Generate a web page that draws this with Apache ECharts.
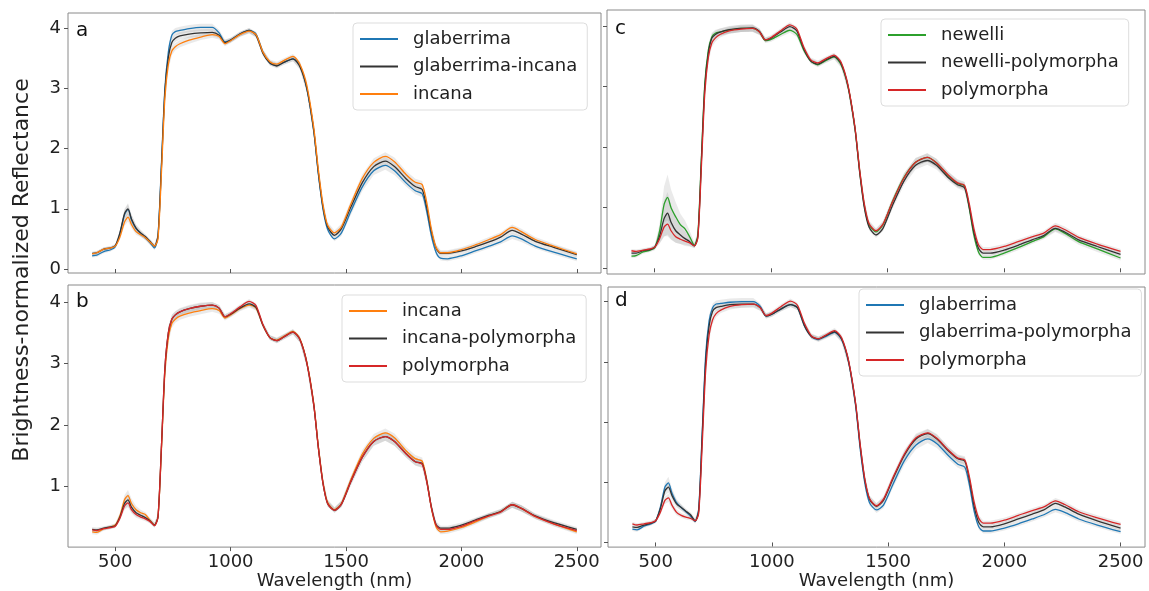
<!DOCTYPE html>
<html><head><meta charset="utf-8">
<script src="https://cdn.jsdelivr.net/npm/echarts@6/dist/echarts.min.js"></script>
<style>html,body{margin:0;padding:0;background:#fff}#c{width:1149px;height:591px}</style>
</head><body><div id="c"></div>
<script>
// Wavelength grid (nm)
const WL = [400,420,450,480,500, 520,540,555,570,590, 610,630,650,670,685, 700,715,730,745,760,
  780,820,870,920,950, 975,1000,1040,1080,1110, 1140,1170,1200,1230,1270, 1300,1330,1360,1380,1400,
  1420,1450,1480,1520,1570, 1620,1670,1710,1760,1800, 1830,1850,1870,1890,1910, 1940,2000,2060,2120,2170,
  2220,2260,2320,2400,2500];
const X_TICKS = [500,1000,1500,2000,2500];
const Y_TICKS = [0,1,2,3,4];
const Y_TICKS_B = [1,2,3,4];
const X_TITLE = 'Wavelength (nm)';
const Y_TITLE = 'Brightness-normalized Reflectance';

// Panel a
const glabA = [.22,.23,.29,.32,.37, .58,.90,.99,.82,.67, .59,.52,.44,.35,.55, 1.75,3.0,3.6,3.88,3.94,
  3.96,3.99,4.01,4.01,3.92, 3.77,3.8,3.9,3.96,3.9, 3.6,3.42,3.38,3.43,3.49, 3.38,3.0,2.3,1.58,1.0,
  .66,.5,.6,.95,1.36, 1.63,1.72,1.63,1.43,1.3, 1.25,.95,.55,.28,.18, .17,.22,.3,.38,.45, .55,.5,.38,.28,.17];
const glabIncA = [.26,.27,.33,.35,.39, .60,.92,1.0,.83,.68, .60,.54,.46,.38,.55, 1.7,2.95,3.52,3.76,3.83,
  3.87,3.9,3.92,3.93,3.88, 3.76,3.8,3.9,3.96,3.88, 3.58,3.42,3.37,3.43,3.49, 3.36,3.0,2.3,1.6,1.03,
  .7,.56,.67,1.02,1.43, 1.7,1.79,1.7,1.5,1.37, 1.32,1.02,.62,.35,.26, .26,.3,.37,.45,.53, .64,.58,.46,.36,.24];
const incA = [.25,.27,.33,.35,.38, .53,.78,.86,.74,.62, .57,.52,.45,.38,.5, 1.6,2.85,3.4,3.62,3.69,
  3.74,3.8,3.85,3.89,3.86, 3.74,3.79,3.89,3.95,3.89, 3.6,3.44,3.4,3.46,3.53, 3.4,3.05,2.35,1.65,1.07,
  .73,.6,.7,1.07,1.5, 1.77,1.87,1.78,1.57,1.44, 1.4,1.1,.66,.36,.27, .27,.32,.4,.49,.57, .69,.62,.49,.38,.25];
// Panel b
const incB = [.26,.25,.31,.34,.37, .52,.78,.85,.72,.62, .57,.54,.45,.37,.5, 1.6,2.85,3.42,3.65,3.72,
  3.77,3.82,3.86,3.89,3.86, 3.74,3.79,3.89,3.95,3.9, 3.62,3.42,3.38,3.44,3.52, 3.4,3.02,2.35,1.65,1.07,
  .74,.62,.72,1.1,1.52, 1.78,1.87,1.79,1.58,1.45, 1.41,1.1,.65,.34,.26, .27,.33,.42,.52,.59, .7,.64,.51,.39,.26];
const incPolB = [.3,.29,.32,.34,.36, .5,.72,.78,.66,.57, .53,.49,.44,.37,.5, 1.65,2.92,3.5,3.72,3.79,
  3.84,3.89,3.93,3.95,3.9, 3.76,3.8,3.9,3.97,3.91, 3.62,3.42,3.37,3.43,3.51, 3.39,3.01,2.33,1.63,1.05,
  .72,.61,.71,1.07,1.47, 1.73,1.81,1.73,1.53,1.4, 1.37,1.08,.66,.38,.32, .32,.37,.45,.53,.59, .7,.64,.52,.41,.3];
const polB = [.29,.28,.31,.33,.35, .48,.68,.73,.62,.54, .5,.47,.43,.36,.5, 1.65,2.92,3.5,3.72,3.79,
  3.84,3.89,3.93,3.95,3.9, 3.76,3.81,3.92,4.01,3.94, 3.63,3.42,3.37,3.43,3.51, 3.39,3.01,2.33,1.63,1.05,
  .72,.61,.71,1.07,1.47, 1.73,1.81,1.73,1.53,1.4, 1.36,1.07,.65,.37,.3, .3,.35,.44,.52,.58, .7,.64,.51,.39,.28];
// Panel c
const newC = [.2,.21,.27,.3,.34, .6,1.05,1.17,1.0,.85, .72,.65,.52,.38,.55, 1.8,3.05,3.6,3.82,3.88,
  3.9,3.93,3.96,3.96,3.9, 3.76,3.78,3.86,3.93,3.86, 3.6,3.42,3.36,3.42,3.49, 3.36,3.0,2.3,1.6,1.03,
  .72,.6,.72,1.1,1.5, 1.75,1.83,1.74,1.53,1.4, 1.36,1.0,.55,.27,.18, .18,.25,.34,.44,.52, .65,.58,.44,.32,.17];
const newPolC = [.25,.25,.29,.31,.35, .52,.82,.91,.76,.62, .55,.49,.44,.37,.52, 1.75,3.0,3.55,3.8,3.86,
  3.9,3.94,3.96,3.97,3.91, 3.77,3.8,3.9,3.99,3.92, 3.62,3.42,3.37,3.43,3.5, 3.38,3.0,2.3,1.58,1.0,
  .68,.55,.66,1.03,1.44, 1.7,1.78,1.7,1.5,1.38, 1.33,1.02,.6,.33,.25, .25,.3,.38,.47,.54, .66,.6,.47,.36,.23];
const polC = [.29,.28,.3,.32,.35, .48,.68,.73,.62,.52, .48,.45,.42,.37,.5, 1.65,2.9,3.48,3.72,3.8,
  3.86,3.92,3.95,3.96,3.9, 3.77,3.81,3.92,4.02,3.95, 3.65,3.44,3.39,3.45,3.52, 3.4,3.02,2.32,1.62,1.06,
  .74,.62,.73,1.09,1.49, 1.75,1.83,1.74,1.54,1.41, 1.37,1.07,.66,.39,.31, .31,.36,.44,.52,.58, .7,.64,.51,.4,.28];
// Panel d
const glabD = [.22,.21,.27,.31,.35, .58,.92,.99,.82,.66, .58,.51,.44,.35,.55, 1.8,3.1,3.68,3.9,3.96,
  3.97,3.99,4.0,4.0,3.92, 3.76,3.79,3.88,3.95,3.9, 3.6,3.42,3.37,3.42,3.49, 3.37,3.0,2.28,1.55,.98,
  .66,.54,.62,.96,1.36, 1.62,1.72,1.64,1.44,1.3, 1.25,.95,.52,.26,.19, .19,.24,.31,.39,.46, .55,.5,.39,.29,.18];
const glabPolD = [.26,.25,.29,.32,.36, .56,.86,.92,.78,.64, .58,.52,.46,.36,.52, 1.75,3.0,3.6,3.84,3.9,
  3.92,3.95,3.96,3.96,3.9, 3.76,3.79,3.88,3.95,3.9, 3.6,3.42,3.38,3.43,3.5, 3.38,3.0,2.3,1.6,1.03,
  .72,.6,.7,1.05,1.45, 1.72,1.81,1.72,1.52,1.39, 1.35,1.03,.6,.33,.26, .26,.31,.39,.47,.54, .65,.59,.47,.36,.24];
const polD = [.31,.29,.31,.33,.36, .5,.7,.74,.62,.5, .45,.42,.4,.36,.48, 1.6,2.85,3.45,3.7,3.8,
  3.86,3.92,3.95,3.96,3.9, 3.77,3.81,3.92,4.01,3.94, 3.64,3.43,3.38,3.44,3.52, 3.4,3.02,2.32,1.62,1.05,
  .73,.61,.72,1.07,1.47, 1.74,1.82,1.73,1.53,1.4, 1.37,1.08,.67,.4,.32, .32,.37,.45,.53,.59, .69,.63,.51,.41,.3];

// Standard deviations (grey bands)
const sdGlabA = [.03,.03,.03,.03,.03, .05,.08,.09,.08,.06, .05,.04,.04,.04,.05, .1,.12,.1,.07,.06,
  .06,.06,.06,.06,.05, .04,.04,.04,.04,.04, .05,.04,.04,.04,.04, .05,.07,.09,.09,.07,
  .05,.04,.05,.06,.07, .07,.07,.07,.06,.06, .06,.07,.07,.05,.04, .04,.04,.04,.04,.04, .05,.05,.04,.04,.04];
const sdGlabIncA = [.03,.03,.03,.03,.03, .05,.08,.09,.08,.06, .05,.04,.04,.04,.05, .1,.12,.1,.07,.06,
  .06,.06,.06,.06,.05, .04,.04,.04,.04,.04, .05,.04,.04,.04,.04, .05,.07,.09,.09,.07,
  .05,.04,.05,.06,.07, .07,.07,.07,.06,.06, .06,.07,.07,.05,.04, .04,.04,.04,.04,.04, .05,.05,.04,.04,.04];
const sdIncA = [.03,.03,.03,.03,.03, .04,.06,.07,.06,.05, .04,.04,.04,.03,.05, .1,.12,.1,.07,.06,
  .06,.06,.05,.05,.05, .04,.04,.04,.04,.04, .04,.04,.04,.04,.04, .05,.07,.09,.09,.07,
  .05,.04,.05,.06,.07, .07,.07,.07,.06,.06, .06,.07,.07,.05,.04, .04,.04,.04,.04,.04, .05,.05,.04,.04,.04];
const sdIncB = [.04,.04,.03,.03,.03, .05,.08,.09,.08,.06, .05,.04,.04,.04,.05, .1,.12,.1,.07,.06,
  .06,.06,.06,.05,.05, .04,.04,.04,.04,.04, .04,.04,.04,.04,.04, .05,.07,.09,.09,.07,
  .05,.04,.05,.06,.07, .07,.07,.07,.06,.06, .06,.07,.07,.05,.04, .04,.04,.04,.04,.04, .05,.05,.04,.04,.04];
const sdIncPolB = [.04,.04,.03,.03,.03, .05,.08,.1,.08,.06, .05,.04,.04,.04,.05, .1,.12,.1,.07,.06,
  .06,.06,.06,.05,.05, .04,.04,.04,.04,.04, .04,.04,.04,.04,.04, .05,.07,.09,.09,.07,
  .05,.04,.05,.06,.07, .07,.07,.07,.06,.06, .06,.07,.07,.05,.04, .04,.04,.04,.04,.04, .05,.05,.04,.04,.04];
const sdPolB = [.03,.03,.03,.03,.03, .04,.06,.07,.06,.05, .04,.04,.03,.03,.05, .1,.12,.1,.07,.06,
  .05,.05,.05,.05,.05, .04,.04,.04,.04,.04, .04,.04,.04,.04,.04, .05,.07,.09,.09,.07,
  .05,.04,.05,.06,.07, .07,.07,.07,.06,.06, .06,.07,.07,.05,.04, .04,.04,.04,.04,.04, .05,.05,.04,.04,.04];
const sdNewC = [.03,.03,.03,.03,.04, .12,.3,.38,.3,.24, .18,.14,.1,.05,.06, .1,.12,.1,.07,.06,
  .06,.06,.06,.06,.05, .04,.04,.04,.04,.04, .05,.04,.04,.04,.04, .05,.07,.09,.09,.07,
  .05,.05,.05,.06,.07, .07,.07,.07,.06,.06, .06,.07,.07,.05,.04, .04,.04,.04,.04,.04, .05,.05,.05,.05,.04];
const sdNewPolC = [.03,.03,.03,.03,.04, .12,.3,.35,.28,.2, .15,.12,.08,.04,.05, .1,.12,.1,.07,.06,
  .06,.06,.06,.06,.05, .04,.04,.04,.04,.04, .05,.04,.04,.04,.04, .05,.07,.09,.09,.07,
  .05,.05,.05,.06,.07, .07,.07,.07,.06,.06, .06,.07,.07,.05,.04, .04,.04,.04,.04,.04, .05,.05,.05,.05,.04];
const sdPolC = [.03,.03,.03,.03,.03, .07,.15,.2,.15,.1, .08,.06,.05,.03,.05, .1,.12,.1,.07,.06,
  .05,.05,.05,.05,.05, .04,.04,.04,.04,.04, .04,.04,.04,.04,.04, .05,.07,.09,.09,.07,
  .05,.04,.05,.06,.07, .07,.07,.07,.06,.06, .06,.07,.07,.05,.04, .04,.04,.04,.04,.04, .05,.05,.04,.04,.04];
const sdGlabD = [.03,.03,.03,.03,.03, .05,.08,.1,.08,.06, .05,.04,.04,.04,.05, .1,.12,.1,.07,.06,
  .06,.06,.06,.06,.05, .04,.04,.04,.04,.04, .05,.04,.04,.04,.04, .05,.07,.09,.09,.07,
  .05,.05,.05,.06,.07, .07,.07,.07,.06,.06, .06,.07,.07,.05,.04, .04,.04,.04,.04,.04, .05,.05,.04,.04,.04];
const sdGlabPolD = [.03,.03,.03,.03,.03, .05,.08,.09,.08,.06, .05,.04,.04,.04,.05, .1,.12,.1,.07,.06,
  .06,.06,.06,.06,.05, .04,.04,.04,.04,.04, .05,.04,.04,.04,.04, .05,.07,.09,.09,.07,
  .05,.05,.05,.06,.07, .07,.07,.07,.06,.06, .06,.07,.07,.05,.04, .04,.04,.04,.04,.04, .05,.05,.04,.04,.04];
const sdPolD = [.03,.03,.03,.03,.03, .04,.06,.07,.06,.05, .04,.04,.03,.03,.05, .1,.12,.1,.07,.06,
  .05,.05,.05,.05,.05, .04,.04,.04,.04,.04, .04,.04,.04,.04,.04, .05,.07,.09,.09,.07,
  .05,.04,.05,.06,.07, .07,.07,.07,.06,.06, .06,.07,.07,.05,.04, .04,.04,.04,.04,.04, .05,.05,.04,.04,.04];

const COL = {blue:'#1f77b4', orange:'#ff7f0e', green:'#2ca02c', red:'#d62728', black:'#333333'};
const BAND = 'rgba(128,128,128,0.17)';
const FONT = 'DejaVu Sans';

const PANELS = [
  {letter:'a', letterPos:[76,33], grid:{left:68, top:13, width:533, height:260}, y:[-0.066,4.25], yticks:Y_TICKS, xlab:false, ylab:true,
   legend:{left:353, top:23},
   lines:[['glaberrima', glabA, sdGlabA, COL.blue], ['glaberrima-incana', glabIncA, sdGlabIncA, COL.black], ['incana', incA, sdIncA, COL.orange]]},
  {letter:'b', letterPos:[76,304], grid:{left:68, top:285, width:533, height:263}, y:[0.011,4.276], yticks:Y_TICKS_B, xlab:true, ylab:true,
   legend:{left:342, top:295},
   lines:[['incana', incB, sdIncB, COL.orange], ['incana-polymorpha', incPolB, sdIncPolB, COL.black], ['polymorpha', polB, sdPolB, COL.red]]},
  {letter:'c', letterPos:[615,31], grid:{left:607, top:10, width:538, height:264}, y:[-0.094,4.264], yticks:Y_TICKS, xlab:false, ylab:false,
   legend:{left:881, top:19},
   lines:[['newelli', newC, sdNewC, COL.green], ['newelli-polymorpha', newPolC, sdNewPolC, COL.black], ['polymorpha', polC, sdPolC, COL.red]]},
  {letter:'d', letterPos:[615,303], grid:{left:608, top:287, width:537, height:262}, y:[-0.077,4.243], yticks:Y_TICKS, xlab:true, ylab:false,
   legend:{left:859, top:289},
   lines:[['glaberrima', glabD, sdGlabD, COL.blue], ['glaberrima-polymorpha', glabPolD, sdGlabPolD, COL.black], ['polymorpha', polD, sdPolD, COL.red]]}
];

const grids = [], xAxes = [], yAxes = [], series = [], legends = [], graphics = [];
const SMOOTH = 0.25;
const plain = v => String(v);
PANELS.forEach((p, gi) => {
  grids.push(Object.assign({show:true, borderColor:'#8a8a8a', borderWidth:1, backgroundColor:'transparent'}, p.grid));
  xAxes.push({gridIndex:gi, type:'value', min:295, max:2605,
    axisLine:{show:false}, splitLine:{show:false},
    axisTick:{show:true, length:4, customValues:X_TICKS, lineStyle:{color:'#555'}},
    axisLabel:{show:p.xlab, customValues:X_TICKS, formatter:plain, fontSize:18, fontFamily:FONT, color:'#222', margin:6},
    name:p.xlab ? X_TITLE : '', nameLocation:'middle', nameGap:22,
    nameTextStyle:{fontSize:18, fontFamily:FONT, color:'#222'}});
  yAxes.push({gridIndex:gi, type:'value', min:p.y[0], max:p.y[1],
    axisLine:{show:false}, splitLine:{show:false},
    axisTick:{show:true, length:4, customValues:p.yticks, lineStyle:{color:'#555'}},
    axisLabel:{show:p.ylab, customValues:p.yticks, formatter:plain, fontSize:18, fontFamily:FONT, color:'#222', margin:7}});
  // grey +/- sd bands, one polygon per group drawn through the axes' coordinate system
  p.lines.forEach(([name, vals, sd]) => {
    const bandData = WL.map((w, i) => [w, vals[i] - sd[i], vals[i] + sd[i]]);
    series.push({type:'custom', xAxisIndex:gi, yAxisIndex:gi, silent:true, z:1, clip:true,
      data:bandData, encode:{x:0, y:[1, 2]},
      renderItem:(params, api) => {
        if (params.dataIndex !== 0) return null;
        const upper = bandData.map(d => api.coord([d[0], d[2]]));
        const lower = bandData.slice().reverse().map(d => api.coord([d[0], d[1]]));
        return {type:'polygon', shape:{points:upper.concat(lower)}, style:{fill:BAND, stroke:null}};
      }});
  });
  p.lines.forEach(([name, vals, sd, color]) => {
    series.push({type:'line', name:name, xAxisIndex:gi, yAxisIndex:gi,
      data:WL.map((w, i) => [w, vals[i]]), symbol:'none', smooth:SMOOTH,
      color:color, lineStyle:{color:color, width:1.3}, z:3});
  });
  legends.push({left:p.legend.left, top:p.legend.top, orient:'vertical',
    data:p.lines.map(l => l[0]), icon:'rect', itemWidth:38, itemHeight:2, itemGap:7.5,
    padding:[6,10,6,7], backgroundColor:'rgba(255,255,255,0.85)', borderColor:'#dddddd', borderWidth:1, borderRadius:4,
    textStyle:{fontSize:18, fontFamily:FONT, color:'#222', lineHeight:20, padding:[0,0,0,10]},
    selectedMode:false});
  graphics.push({type:'text', left:p.letterPos[0], top:p.letterPos[1] - 12,
    style:{text:p.letter, font:'20px "DejaVu Sans"', fill:'#111'}});
});
graphics.push({type:'text', x:22, y:270, rotation:Math.PI/2,
  style:{text:Y_TITLE, font:'22px "DejaVu Sans"', fill:'#222', textAlign:'center', textVerticalAlign:'middle'}});

const chart = echarts.init(document.getElementById('c'), null, {renderer:'canvas'});
chart.setOption({animation:false, backgroundColor:'#fff', grid:grids, xAxis:xAxes, yAxis:yAxes,
  series:series, legend:legends, graphic:graphics});
</script></body></html>
